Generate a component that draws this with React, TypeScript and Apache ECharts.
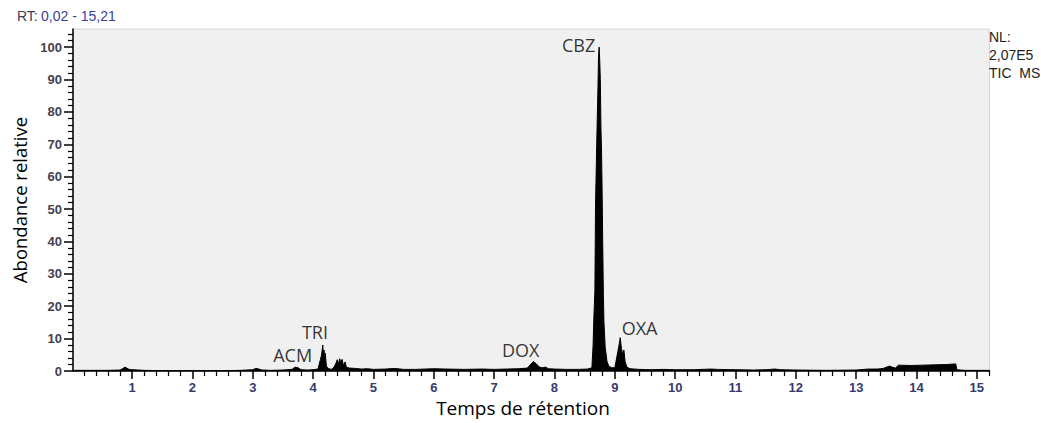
import React, { useEffect, useRef } from "react";
import * as echarts from "echarts";

// Retention time (min) and relative abundance (%) of the TIC trace
const rtTimes = [
  0.02, 0.3, 0.6, 0.8, 0.85, 0.88, 0.9, 0.95, 1.0, 1.1, 1.2, 1.5, 2.0, 2.5, 2.8,
  3.0, 3.05, 3.1, 3.15, 3.3, 3.5, 3.65, 3.7, 3.75, 3.8, 3.9, 4.0, 4.08, 4.12, 4.14,
  4.16, 4.17, 4.18, 4.19, 4.2, 4.22, 4.25, 4.3, 4.35, 4.38, 4.4, 4.42, 4.44, 4.46,
  4.48, 4.5, 4.53, 4.55, 4.6, 4.7, 4.8, 4.9, 5.0, 5.2, 5.35, 5.5, 5.7, 6.0, 6.2,
  6.5, 6.8, 7.0, 7.2, 7.4, 7.55, 7.6, 7.65, 7.7, 7.75, 7.8, 7.85, 7.9, 8.0, 8.2,
  8.4, 8.55, 8.62, 8.64, 8.65, 8.67, 8.68, 8.7, 8.72, 8.73, 8.74, 8.75, 8.76, 8.77,
  8.78, 8.79, 8.8, 8.81, 8.82, 8.84, 8.87, 8.9, 8.95, 9.0, 9.02, 9.05, 9.07, 9.09,
  9.11, 9.13, 9.15, 9.17, 9.2, 9.25, 9.4, 9.6, 9.8, 10.0, 10.3, 10.6, 10.7, 11.0,
  11.3, 11.5, 11.65, 11.75, 12.0, 12.5, 13.0, 13.2, 13.35, 13.45, 13.55, 13.6,
  13.65, 13.7, 13.9, 14.1, 14.3, 14.5, 14.65, 14.67, 14.8, 15.0, 15.21,
];
const abundance = [
  0.2, 0.2, 0.2, 0.3, 0.8, 1.2, 1.0, 0.5, 0.4, 0.3, 0.2, 0.1, 0.1, 0.1, 0.2,
  0.4, 0.8, 0.6, 0.3, 0.2, 0.3, 0.5, 1.2, 1.0, 0.4, 0.3, 0.4, 0.6, 3.5, 5.0,
  8.0, 4.5, 6.5, 3.0, 5.5, 1.5, 0.8, 0.5, 1.2, 2.5, 3.5, 2.0, 3.8, 2.5,
  3.6, 1.8, 2.8, 1.2, 0.9, 0.8, 0.6, 0.7, 0.5, 0.6, 0.8, 0.5, 0.5, 0.7, 0.6,
  0.5, 0.6, 0.5, 0.6, 0.7, 0.9, 2.0, 2.9, 2.2, 1.2, 1.0, 1.2, 0.7, 0.6, 0.5,
  0.5, 0.6, 1.0, 8, 15, 25, 51, 70, 87, 97, 100, 96, 90, 75,
  68, 55, 39, 24, 15, 7.5, 3, 1.5, 1.0, 1.0, 3, 6, 8, 10.3,
  7, 5, 6.5, 3, 1.2, 0.7, 0.5, 0.4, 0.5, 0.4, 0.4, 0.6, 0.5, 0.4,
  0.3, 0.4, 0.6, 0.4, 0.3, 0.2, 0.3, 0.6, 0.6, 0.8, 1.5, 1.2,
  0.9, 1.8, 1.7, 1.8, 1.9, 2.0, 2.2, 0.4, 0.2, 0.2, 0.2,
];

// Peak annotations: name, label centre (rt, abundance)
const peakNames = ["CBZ", "TRI", "ACM", "DOX", "OXA"];
const peakLabelRt = [8.4, 4.03, 3.66, 7.44, 9.41];
const peakLabelAb = [100.6, 12.0, 4.9, 6.5, 13.3];

// Axis ticks
const xMajorTicks = [1, 2, 3, 4, 5, 6, 7, 8, 9, 10, 11, 12, 13, 14, 15];
const yMajorTicks = [0, 10, 20, 30, 40, 50, 60, 70, 80, 90, 100];
const xRange = [0.02, 15.21];
const yRange = [0, 105.6];

const xMinorTicks: number[] = [];
for (let i = 1; i <= 76; i++) {
  if (i % 5 !== 0) xMinorTicks.push(Math.round(i * 20) / 100);
}
const yMinorTicks: number[] = [];
for (let i = 1; i <= 52; i++) {
  if (i % 5 !== 0) yMinorTicks.push(i * 2);
}

export default function App() {
  const ref = useRef<HTMLDivElement>(null);
  useEffect(() => {
    document.body.style.margin = "0";
    if (!ref.current) return;
    const chart = echarts.init(ref.current, null, { renderer: "svg" });
    const trace = rtTimes.map((t, i) => [t, abundance[i]]);
    const labels = peakNames.map((n, i) => [peakLabelRt[i], peakLabelAb[i], n]);
    const tickFont = { fontFamily: "Liberation Sans", fontSize: 13, fontWeight: "bold" as const };
    chart.setOption({
      animation: false,
      backgroundColor: "#ffffff",
      grid: {
        left: 73,
        right: 51.5,
        top: 29,
        bottom: 52,
        show: true,
        backgroundColor: "#f0f0f0",
        borderColor: "#d4d4d4",
        borderWidth: 1,
      },
      xAxis: [
        {
          type: "value",
          min: xRange[0],
          max: xRange[1],
          axisLine: { show: true, lineStyle: { color: "#000", width: 1.5 } },
          axisTick: {
            show: true,
            customValues: xMajorTicks,
            length: 8,
            lineStyle: { color: "#000", width: 1.5 },
          },
          axisLabel: {
            customValues: xMajorTicks,
            color: "#343b6e",
            margin: 10,
            ...tickFont,
          },
          splitLine: { show: false },
        },
        {
          type: "value",
          min: xRange[0],
          max: xRange[1],
          position: "bottom",
          axisLine: { show: false },
          axisTick: {
            show: true,
            customValues: xMinorTicks,
            length: 5,
            lineStyle: { color: "#000", width: 1.2 },
          },
          axisLabel: { show: false },
          splitLine: { show: false },
        },
      ],
      yAxis: [
        {
          type: "value",
          min: yRange[0],
          max: yRange[1],
          axisLine: { show: true, lineStyle: { color: "#000", width: 1.5 } },
          axisTick: {
            show: true,
            customValues: yMajorTicks,
            length: 9,
            lineStyle: { color: "#000", width: 1.5 },
          },
          axisLabel: {
            customValues: yMajorTicks,
            color: "#45404e",
            margin: 11,
            ...tickFont,
          },
          splitLine: { show: false },
        },
        {
          type: "value",
          min: yRange[0],
          max: yRange[1],
          position: "left",
          axisLine: { show: false },
          axisTick: {
            show: true,
            customValues: yMinorTicks,
            length: 5,
            lineStyle: { color: "#000", width: 1.2 },
          },
          axisLabel: { show: false },
          splitLine: { show: false },
        },
      ],
      series: [
        {
          type: "line",
          data: trace,
          xAxisIndex: 0,
          yAxisIndex: 0,
          showSymbol: false,
          symbol: "none",
          lineStyle: { color: "#000", width: 1 },
          areaStyle: { color: "#000", opacity: 1 },
          silent: true,
        },
        {
          type: "scatter",
          data: labels,
          xAxisIndex: 0,
          yAxisIndex: 0,
          symbolSize: 1,
          itemStyle: { color: "rgba(0,0,0,0)" },
          silent: true,
          label: {
            show: true,
            position: "inside",
            formatter: (p: any) => p.data[2],
            fontFamily: "Open Sans",
            fontSize: 18,
            color: "#000",
          },
        },
      ],
      graphic: [
        {
          type: "text",
          left: 17,
          top: 9,
          style: {
            text: "{a|RT:} {b|0,02 - 15,21}",
            rich: {
              a: { fontFamily: "Liberation Sans", fontSize: 14, fill: "#3b4056" },
              b: { fontFamily: "Liberation Sans", fontSize: 14, fill: "#3a3f9a" },
            },
          },
        },
        {
          type: "text",
          left: 989,
          top: 28,
          style: {
            text: "NL:\n2,07E5\nTIC  MS",
            fontFamily: "Liberation Sans",
            fontSize: 14,
            lineHeight: 18,
            fill: "#222",
          },
        },
        {
          type: "text",
          x: 19.5,
          y: 200,
          rotation: Math.PI / 2,
          style: {
            text: "Abondance relative",
            fontFamily: "Open Sans",
            fontSize: 18.5,
            fill: "#000",
            align: "center",
            verticalAlign: "middle",
          },
        },
        {
          type: "text",
          x: 523,
          y: 408,
          style: {
            text: "Temps de rétention",
            fontFamily: "Open Sans",
            fontSize: 19,
            fill: "#000",
            align: "center",
            verticalAlign: "middle",
          },
        },
      ],
    });
    return () => chart.dispose();
  }, []);
  return <div ref={ref} style={{ width: 1041, height: 423 }} />;
}
